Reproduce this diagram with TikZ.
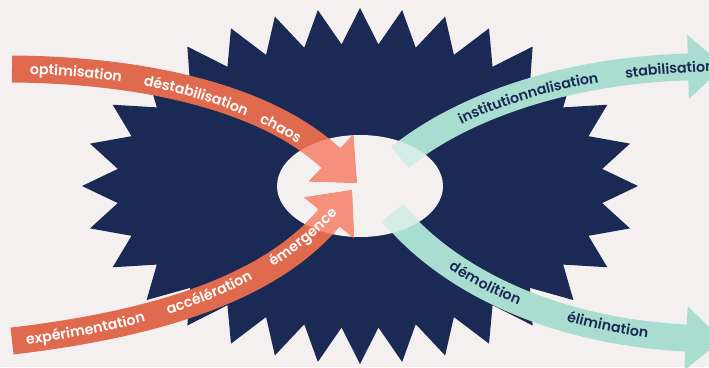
\documentclass[tikz,border=0pt]{standalone}
\usepackage{fontspec}
\setmainfont{Poppins}[BoldFont={Poppins SemiBold}]
\newfontfamily\wideband{Poppins SemiBold}[LetterSpace=6]
\usetikzlibrary{arrows.meta,decorations.text}

\definecolor{navy}{HTML}{1B2955}
\definecolor{paper}{HTML}{F5F0F0}
\definecolor{rust}{HTML}{E06A4E}
\definecolor{salmon}{HTML}{F4907B}
\definecolor{mint}{HTML}{A9DDD0}
\definecolor{palemint}{HTML}{D4EEE7}

\newcommand{\bandfont}{\fontsize{14.2}{16}\selectfont\bfseries}
\newcommand{\widefont}{\fontsize{14.2}{16}\selectfont\wideband}

\tikzset{
  band/.style = {line width=27pt, -{Triangle[width=62pt,length=36pt]}},
  wword/.style 2 args = {decorate, decoration={text along path, raise=-5pt,
                text align={left indent=#1}, text={|\bandfont\color{white}|#2}}},
  nword/.style 2 args = {decorate, decoration={text along path, raise=-5pt,
                text align={left indent=#1}, text={|\bandfont\color{navy}|#2}}},
  nwide/.style 2 args = {decorate, decoration={text along path, raise=-5pt,
                text align={left indent=#1}, text={|\widefont\color{navy}|#2}}}
}

\begin{document}
\begin{tikzpicture}[x=1pt, y=-1pt]
	\def\cx{360}
	\def\cy{186}
	% band paths
	\def\orTop{(12,69) .. controls (150,70) and (270,100) .. (357,183)}
	\def\orBot{(12,341) .. controls (150,325) and (270,290) .. (352,190)}
	\def\mnTop{(400,157) .. controls (465,105) and (570,70) .. (724,66)}
	\def\mnBot{(393,213) .. controls (435,265) and (530,330) .. (722,340)}

	\useasboundingbox (0,0) rectangle (709,367);
	\clip (0,0) rectangle (709,367);
	\fill[paper] (0,0) rectangle (709,367);

	% Star (32 spikes)
	\fill[navy] (638,\cy) \foreach \i in {1,...,63}{
		-- ({\cx+(278-34*mod(\i,2))*cos(\i*5.625+6.6*sin(\i*11.25))},
		    {\cy+(178-36*mod(\i,2))*sin(\i*5.625+6.6*sin(\i*11.25))})
	} -- cycle;

	% Hole
	\fill[paper] (\cx,\cy) ellipse [x radius=83, y radius=51];

	% Bands
	\draw[band, rust] \orTop;
	\draw[band, rust] \orBot;
	\draw[band, mint] \mnTop;
	\draw[band, mint] \mnBot;

	% Bands seen through the hole
	\begin{scope}
		\clip (\cx,\cy) ellipse [x radius=83, y radius=51];
		\draw[band, salmon] \orTop;
		\draw[band, salmon] \orBot;
		\draw[band, palemint] \mnTop;
		\draw[band, palemint] \mnBot;
	\end{scope}

	% Words in
	\path[wword={18pt}{optimisation}] \orTop;
	\path[wword={133pt}{déstabilisation}] \orTop;
	\path[wword={256pt}{chaos}] \orTop;
	\path[wword={14pt}{expérimentation}] \orBot;
	\path[wword={158pt}{accélération}] \orBot;
	\path[wword={272pt}{émergence}] \orBot;

	% Words out
	\path[nwide={70pt}{institutionnalisation}] \mnTop -- (790,63);
	\path[nwide={243pt}{stabilisation}] \mnTop -- (790,63);
	\path[nword={78pt}{démolition}] \mnBot;
	\path[nword={206pt}{élimination}] \mnBot -- (790,342);
\end{tikzpicture}
\end{document}
